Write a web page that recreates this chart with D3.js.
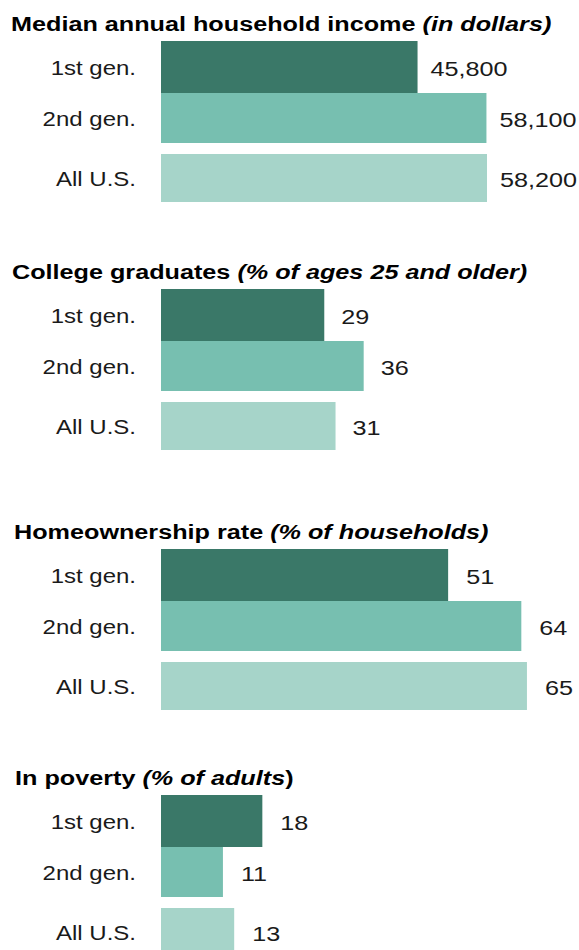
<!DOCTYPE html>
<html>
<head>
<meta charset="utf-8">
<script src="https://cdn.jsdelivr.net/npm/d3@7/dist/d3.min.js"></script>
<style>
  html, body { margin: 0; padding: 0; background: #fff; }
  svg { display: block; }
  text { font-family: "Liberation Sans", Arial, Helvetica, sans-serif; fill: #1a1a1a; }
</style>
</head>
<body>
<script>
// Categories shared by every panel
const categories = ["1st gen.", "2nd gen.", "All U.S."];

// Panel values
const incomeValues = [45800, 58100, 58200];
const collegeValues = [29, 36, 31];
const homeownershipValues = [51, 64, 65];
const povertyValues = [18, 11, 13];

// Panel headings: [upright part, italic part, trailing upright part]
const incomeTitle = ["Median annual household income ", "(in dollars)", ""];
const collegeTitle = ["College graduates ", "(% of ages 25 and older)", ""];
const homeTitle = ["Homeownership rate ", "(% of households)", ""];
const povertyTitle = ["In poverty ", "(% of adults", ")"];

const colors = ["#3a7868", "#77bfb0", "#a6d4c9"];

const W = 579, H = 950;
const barX = 161;
const SX = 1.2; // horizontal stretch of the lettering

const svg = d3.select("body").append("svg")
  .attr("width", W).attr("height", H);

// Row placement within a panel
const rowOffset = d3.scaleOrdinal(categories, [0, 52, 113]);
const rowHeight = d3.scaleOrdinal(categories, [52, 50, 48]);
const color = d3.scaleOrdinal(categories, colors);

// Scales: dollars for income, shared percent scale for the rest
const xIncome = d3.scaleLinear().domain([0, 58200]).range([0, 326]);
const xPct = d3.scaleLinear().domain([0, 100]).range([0, 563]);

const panels = [
  { title: incomeTitle, values: incomeValues, x: xIncome, fmt: d3.format(","), top: 41, titleX: 11, labelGap: 13 },
  { title: collegeTitle, values: collegeValues, x: xPct, fmt: d3.format("d"), top: 289, titleX: 12, labelGap: 17 },
  { title: homeTitle, values: homeownershipValues, x: xPct, fmt: d3.format("d"), top: 549, titleX: 14, labelGap: 18 },
  { title: povertyTitle, values: povertyValues, x: xPct, fmt: d3.format("d"), top: 795, titleX: 15, labelGap: 18 }
];

panels.forEach(p => {
  const g = svg.append("g").attr("transform", `translate(0,${p.top})`);
  const rows = categories.map((c, i) => ({ cat: c, value: p.values[i] }));

  // heading
  const t = g.append("text")
    .attr("transform", `translate(${p.titleX},-10) scale(${SX},1)`)
    .style("font-size", "21px")
    .style("font-weight", "bold")
    .style("fill", "#000");
  t.append("tspan").text(p.title[0]);
  t.append("tspan").style("font-style", "italic").text(p.title[1]);
  if (p.title[2]) t.append("tspan").text(p.title[2]);

  // bars
  g.selectAll("rect").data(rows).join("rect")
    .attr("x", barX)
    .attr("y", d => rowOffset(d.cat))
    .attr("width", d => p.x(d.value))
    .attr("height", d => rowHeight(d.cat))
    .attr("fill", d => color(d.cat));

  // category labels
  g.selectAll("text.cat").data(rows).join("text")
    .attr("class", "cat")
    .attr("text-anchor", "end")
    .attr("transform", d => `translate(136,${rowOffset(d.cat) + rowHeight(d.cat) / 2 + 8}) scale(${SX},1)`)
    .style("font-size", "20px")
    .text(d => d.cat);

  // value labels
  g.selectAll("text.val").data(rows).join("text")
    .attr("class", "val")
    .attr("transform", d => `translate(${barX + p.x(d.value) + p.labelGap},${rowOffset(d.cat) + rowHeight(d.cat) / 2 + 9}) scale(${SX},1)`)
    .style("font-size", "21px")
    .text(d => p.fmt(d.value));
});
</script>
</body>
</html>
